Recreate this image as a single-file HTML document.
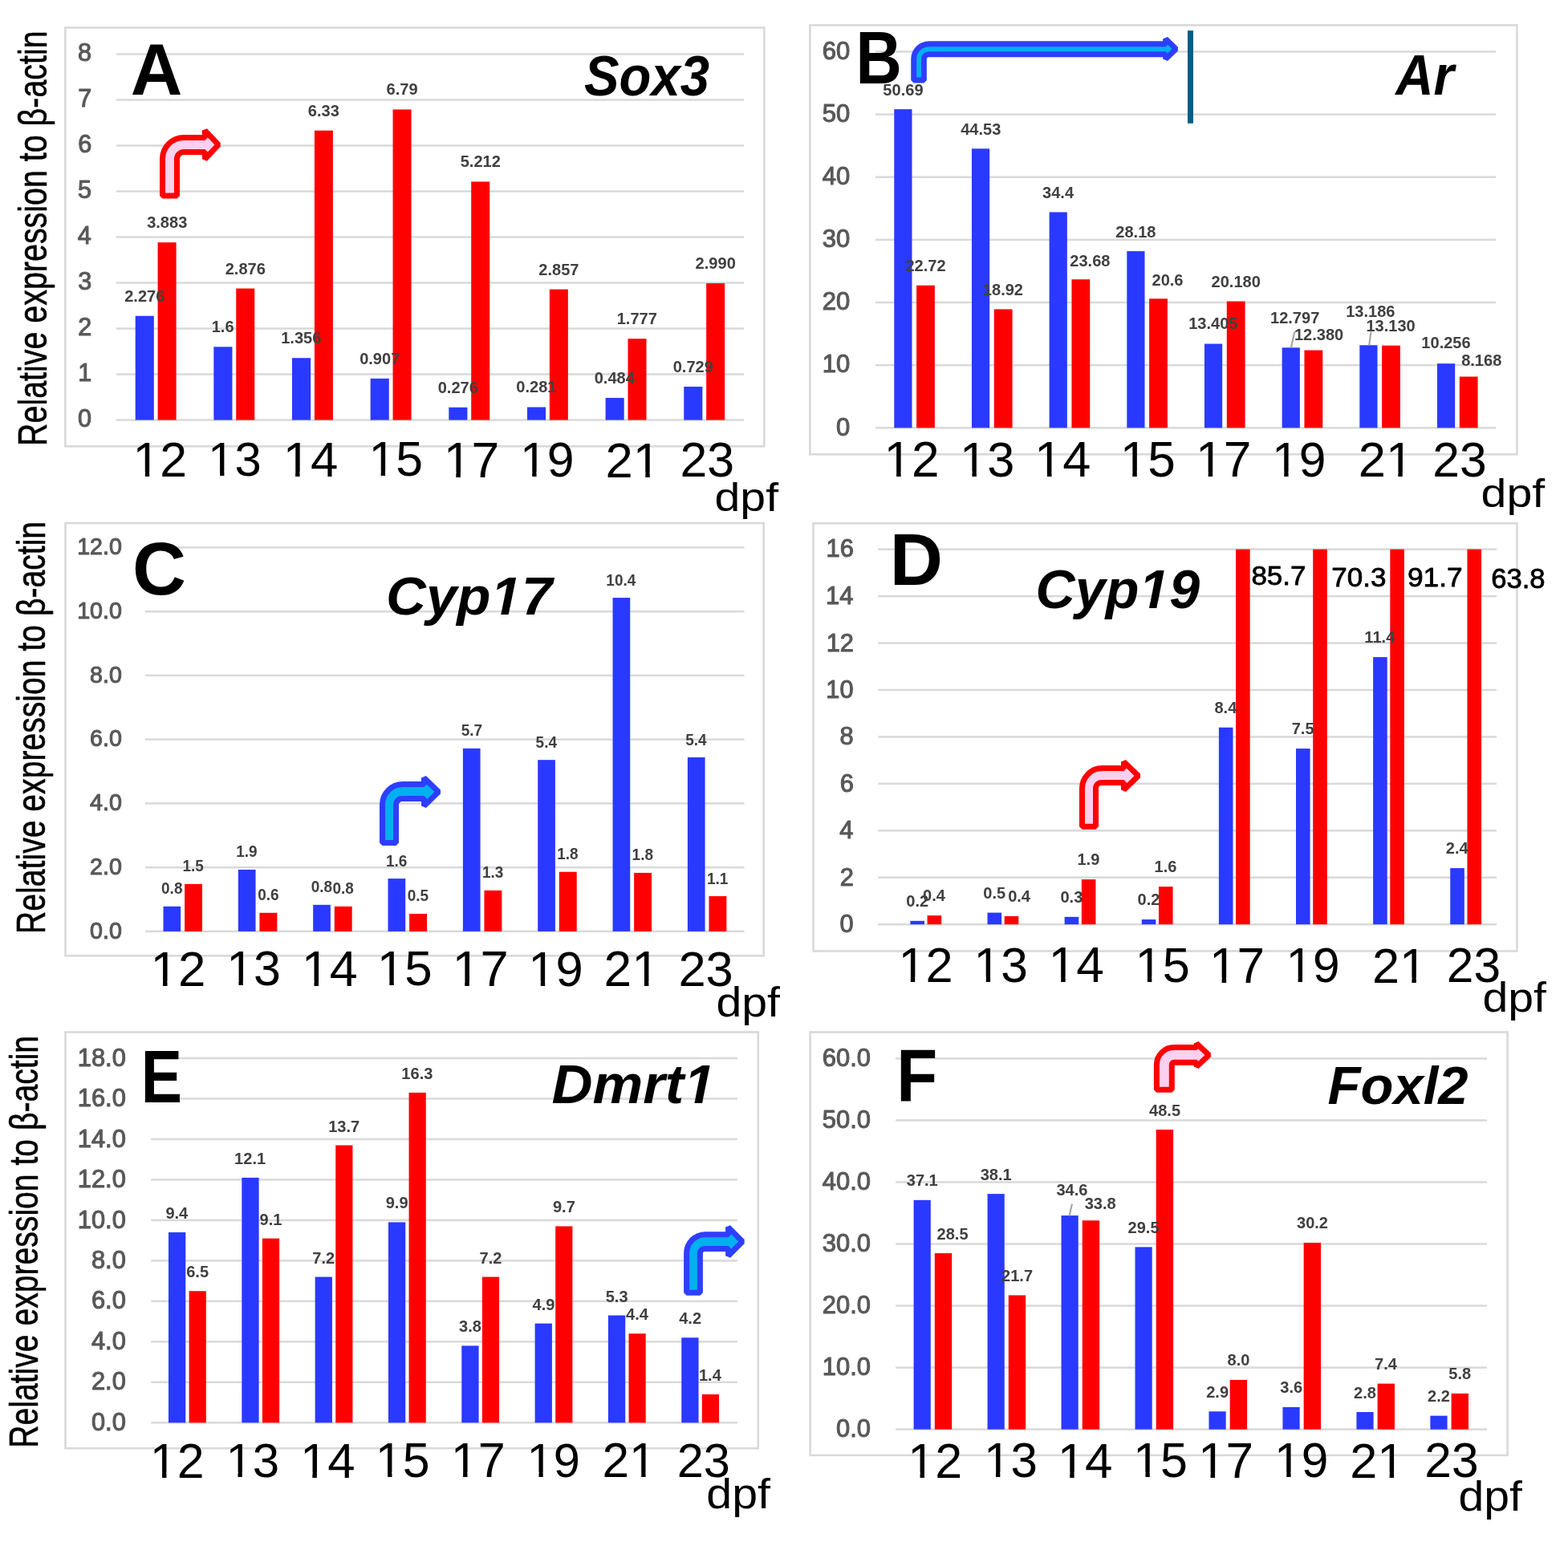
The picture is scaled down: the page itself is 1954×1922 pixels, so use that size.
<!DOCTYPE html>
<html><head><meta charset="utf-8"><title>Relative expression charts</title>
<style>
html,body{margin:0;padding:0;background:#fff;}
svg{display:block;}
text{font-family:"Liberation Sans",Arial,sans-serif;}
.r{font-weight:normal;}
.b{font-weight:bold;}
.bi{font-weight:bold;font-style:italic;}
.i{font-style:italic;}
.t{stroke:#595959;stroke-width:1.1px;stroke-linejoin:round;}
.k{stroke:#000;stroke-width:0.8px;stroke-linejoin:round;}
.y{stroke:#000;stroke-width:0.6px;stroke-linejoin:round;}
</style></head><body>
<svg width="1954" height="1922" viewBox="0 0 1954 1922">
<defs><mask id="m0" maskUnits="userSpaceOnUse" x="0" y="0" width="1954" height="1922"><rect width="1954" height="1922" fill="#fff"/><rect x="168.62" y="587.93" width="12.2" height="7.9" fill="#000"/><rect x="186.18" y="587.93" width="11.89" height="7.9" fill="#000"/></mask>
<mask id="m1" maskUnits="userSpaceOnUse" x="0" y="0" width="1954" height="1922"><rect width="1954" height="1922" fill="#fff"/><rect x="262.09" y="587.41" width="12.03" height="7.79" fill="#000"/><rect x="279.41" y="587.41" width="11.73" height="7.79" fill="#000"/></mask>
<mask id="m2" maskUnits="userSpaceOnUse" x="0" y="0" width="1954" height="1922"><rect width="1954" height="1922" fill="#fff"/><rect x="355.75" y="587.84" width="12.37" height="8.01" fill="#000"/><rect x="373.57" y="587.84" width="12.07" height="8.01" fill="#000"/></mask>
<mask id="m3" maskUnits="userSpaceOnUse" x="0" y="0" width="1954" height="1922"><rect width="1954" height="1922" fill="#fff"/><rect x="462.47" y="587.32" width="12.2" height="7.9" fill="#000"/><rect x="480.04" y="587.32" width="11.89" height="7.9" fill="#000"/></mask>
<mask id="m4" maskUnits="userSpaceOnUse" x="0" y="0" width="1954" height="1922"><rect width="1954" height="1922" fill="#fff"/><rect x="555.79" y="588.25" width="12.55" height="8.13" fill="#000"/><rect x="573.86" y="588.25" width="12.24" height="8.13" fill="#000"/></mask>
<mask id="m5" maskUnits="userSpaceOnUse" x="0" y="0" width="1954" height="1922"><rect width="1954" height="1922" fill="#fff"/><rect x="650.98" y="587.82" width="12.2" height="7.9" fill="#000"/><rect x="668.54" y="587.82" width="11.89" height="7.9" fill="#000"/></mask>
<mask id="m6" maskUnits="userSpaceOnUse" x="0" y="0" width="1954" height="1922"><rect width="1954" height="1922" fill="#fff"/><rect x="791.95" y="588.34" width="12.37" height="8.01" fill="#000"/><rect x="809.77" y="588.34" width="12.06" height="8.01" fill="#000"/></mask>
<mask id="m7" maskUnits="userSpaceOnUse" x="0" y="0" width="1954" height="1922"><rect width="1954" height="1922" fill="#fff"/><rect x="1104.66" y="588.18" width="12.49" height="8.08" fill="#000"/><rect x="1122.64" y="588.18" width="12.17" height="8.08" fill="#000"/></mask>
<mask id="m8" maskUnits="userSpaceOnUse" x="0" y="0" width="1954" height="1922"><rect width="1954" height="1922" fill="#fff"/><rect x="1199.14" y="587.66" width="12.31" height="7.97" fill="#000"/><rect x="1216.87" y="587.66" width="12" height="7.97" fill="#000"/></mask>
<mask id="m9" maskUnits="userSpaceOnUse" x="0" y="0" width="1954" height="1922"><rect width="1954" height="1922" fill="#fff"/><rect x="1292.27" y="588.09" width="12.67" height="8.2" fill="#000"/><rect x="1310.51" y="588.09" width="12.35" height="8.2" fill="#000"/></mask>
<mask id="m10" maskUnits="userSpaceOnUse" x="0" y="0" width="1954" height="1922"><rect width="1954" height="1922" fill="#fff"/><rect x="1398.81" y="587.56" width="12.49" height="8.08" fill="#000"/><rect x="1416.79" y="587.56" width="12.17" height="8.08" fill="#000"/></mask>
<mask id="m11" maskUnits="userSpaceOnUse" x="0" y="0" width="1954" height="1922"><rect width="1954" height="1922" fill="#fff"/><rect x="1493.16" y="588.06" width="12.52" height="8.11" fill="#000"/><rect x="1511.2" y="588.06" width="12.21" height="8.11" fill="#000"/></mask>
<mask id="m12" maskUnits="userSpaceOnUse" x="0" y="0" width="1954" height="1922"><rect width="1954" height="1922" fill="#fff"/><rect x="1588.06" y="587.63" width="12.17" height="7.88" fill="#000"/><rect x="1605.58" y="587.63" width="11.86" height="7.88" fill="#000"/></mask>
<mask id="m13" maskUnits="userSpaceOnUse" x="0" y="0" width="1954" height="1922"><rect width="1954" height="1922" fill="#fff"/><rect x="1729.98" y="588.15" width="12.34" height="7.99" fill="#000"/><rect x="1747.76" y="588.15" width="12.03" height="7.99" fill="#000"/></mask>
<mask id="m14" maskUnits="userSpaceOnUse" x="0" y="0" width="1954" height="1922"><rect width="1954" height="1922" fill="#fff"/><rect x="190.61" y="1222.81" width="12.43" height="8.05" fill="#000"/><rect x="208.51" y="1222.81" width="12.12" height="8.05" fill="#000"/></mask>
<mask id="m15" maskUnits="userSpaceOnUse" x="0" y="0" width="1954" height="1922"><rect width="1954" height="1922" fill="#fff"/><rect x="285.19" y="1222.29" width="12.25" height="7.93" fill="#000"/><rect x="302.84" y="1222.29" width="11.95" height="7.93" fill="#000"/></mask>
<mask id="m16" maskUnits="userSpaceOnUse" x="0" y="0" width="1954" height="1922"><rect width="1954" height="1922" fill="#fff"/><rect x="378.87" y="1222.72" width="12.61" height="8.16" fill="#000"/><rect x="397.03" y="1222.72" width="12.29" height="8.16" fill="#000"/></mask>
<mask id="m17" maskUnits="userSpaceOnUse" x="0" y="0" width="1954" height="1922"><rect width="1954" height="1922" fill="#fff"/><rect x="472.91" y="1222.19" width="12.43" height="8.05" fill="#000"/><rect x="490.81" y="1222.19" width="12.12" height="8.05" fill="#000"/></mask>
<mask id="m18" maskUnits="userSpaceOnUse" x="0" y="0" width="1954" height="1922"><rect width="1954" height="1922" fill="#fff"/><rect x="566.55" y="1222.98" width="12.7" height="8.22" fill="#000"/><rect x="584.84" y="1222.98" width="12.38" height="8.22" fill="#000"/></mask>
<mask id="m19" maskUnits="userSpaceOnUse" x="0" y="0" width="1954" height="1922"><rect width="1954" height="1922" fill="#fff"/><rect x="661.41" y="1222.54" width="12.34" height="7.99" fill="#000"/><rect x="679.17" y="1222.54" width="12.03" height="7.99" fill="#000"/></mask>
<mask id="m20" maskUnits="userSpaceOnUse" x="0" y="0" width="1954" height="1922"><rect width="1954" height="1922" fill="#fff"/><rect x="790.35" y="1223.07" width="12.51" height="8.1" fill="#000"/><rect x="808.37" y="1223.07" width="12.2" height="8.1" fill="#000"/></mask>
<mask id="m21" maskUnits="userSpaceOnUse" x="0" y="0" width="1954" height="1922"><rect width="1954" height="1922" fill="#fff"/><polygon points="610.13,768 623.87,768 625.98,757.41 612.2,757.41" fill="#000"/><polygon points="633.3,768 647.43,768 649.5,757.41 635.44,757.41" fill="#000"/></mask>
<mask id="m22" maskUnits="userSpaceOnUse" x="0" y="0" width="1954" height="1922"><rect width="1954" height="1922" fill="#fff"/><rect x="1122.51" y="1218.17" width="12.31" height="7.97" fill="#000"/><rect x="1140.25" y="1218.17" width="12.01" height="7.97" fill="#000"/></mask>
<mask id="m23" maskUnits="userSpaceOnUse" x="0" y="0" width="1954" height="1922"><rect width="1954" height="1922" fill="#fff"/><rect x="1216.64" y="1217.65" width="12.14" height="7.86" fill="#000"/><rect x="1234.12" y="1217.65" width="11.84" height="7.86" fill="#000"/></mask>
<mask id="m24" maskUnits="userSpaceOnUse" x="0" y="0" width="1954" height="1922"><rect width="1954" height="1922" fill="#fff"/><rect x="1309.69" y="1218.08" width="12.49" height="8.09" fill="#000"/><rect x="1327.68" y="1218.08" width="12.18" height="8.09" fill="#000"/></mask>
<mask id="m25" maskUnits="userSpaceOnUse" x="0" y="0" width="1954" height="1922"><rect width="1954" height="1922" fill="#fff"/><rect x="1417.62" y="1217.56" width="12.31" height="7.97" fill="#000"/><rect x="1435.35" y="1217.56" width="12.01" height="7.97" fill="#000"/></mask>
<mask id="m26" maskUnits="userSpaceOnUse" x="0" y="0" width="1954" height="1922"><rect width="1954" height="1922" fill="#fff"/><rect x="1510.14" y="1218.28" width="12.49" height="8.09" fill="#000"/><rect x="1528.13" y="1218.28" width="12.18" height="8.09" fill="#000"/></mask>
<mask id="m27" maskUnits="userSpaceOnUse" x="0" y="0" width="1954" height="1922"><rect width="1954" height="1922" fill="#fff"/><rect x="1605.48" y="1217.85" width="12.14" height="7.86" fill="#000"/><rect x="1622.96" y="1217.85" width="11.84" height="7.86" fill="#000"/></mask>
<mask id="m28" maskUnits="userSpaceOnUse" x="0" y="0" width="1954" height="1922"><rect width="1954" height="1922" fill="#fff"/><rect x="1747.11" y="1218.37" width="12.31" height="7.97" fill="#000"/><rect x="1764.85" y="1218.37" width="12.01" height="7.97" fill="#000"/></mask>
<mask id="m29" maskUnits="userSpaceOnUse" x="0" y="0" width="1954" height="1922"><rect width="1954" height="1922" fill="#fff"/><polygon points="1418.06,759.64 1431.64,759.64 1433.72,748.91 1420.11,748.91" fill="#000"/><polygon points="1440.95,759.64 1454.9,759.64 1456.95,748.91 1443.07,748.91" fill="#000"/></mask>
<mask id="m30" maskUnits="userSpaceOnUse" x="0" y="0" width="1954" height="1922"><rect width="1954" height="1922" fill="#fff"/><rect x="189.84" y="1835.41" width="12.23" height="7.92" fill="#000"/><rect x="207.45" y="1835.41" width="11.92" height="7.92" fill="#000"/></mask>
<mask id="m31" maskUnits="userSpaceOnUse" x="0" y="0" width="1954" height="1922"><rect width="1954" height="1922" fill="#fff"/><rect x="284.41" y="1834.9" width="12.05" height="7.8" fill="#000"/><rect x="301.78" y="1834.9" width="11.75" height="7.8" fill="#000"/></mask>
<mask id="m32" maskUnits="userSpaceOnUse" x="0" y="0" width="1954" height="1922"><rect width="1954" height="1922" fill="#fff"/><rect x="376.97" y="1835.32" width="12.4" height="8.03" fill="#000"/><rect x="394.84" y="1835.32" width="12.1" height="8.03" fill="#000"/></mask>
<mask id="m33" maskUnits="userSpaceOnUse" x="0" y="0" width="1954" height="1922"><rect width="1954" height="1922" fill="#fff"/><rect x="470.85" y="1834.8" width="12.23" height="7.92" fill="#000"/><rect x="488.46" y="1834.8" width="11.92" height="7.92" fill="#000"/></mask>
<mask id="m34" maskUnits="userSpaceOnUse" x="0" y="0" width="1954" height="1922"><rect width="1954" height="1922" fill="#fff"/><rect x="564.78" y="1835.28" width="12.29" height="7.95" fill="#000"/><rect x="582.48" y="1835.28" width="11.98" height="7.95" fill="#000"/></mask>
<mask id="m35" maskUnits="userSpaceOnUse" x="0" y="0" width="1954" height="1922"><rect width="1954" height="1922" fill="#fff"/><rect x="659.55" y="1834.86" width="11.94" height="7.73" fill="#000"/><rect x="676.75" y="1834.86" width="11.64" height="7.73" fill="#000"/></mask>
<mask id="m36" maskUnits="userSpaceOnUse" x="0" y="0" width="1954" height="1922"><rect width="1954" height="1922" fill="#fff"/><rect x="787.13" y="1835.37" width="12.11" height="7.84" fill="#000"/><rect x="804.57" y="1835.37" width="11.81" height="7.84" fill="#000"/></mask>
<mask id="m37" maskUnits="userSpaceOnUse" x="0" y="0" width="1954" height="1922"><rect width="1954" height="1922" fill="#fff"/><polygon points="850.9,1377.41 864.96,1377.41 867.11,1366.61 853.02,1366.61" fill="#000"/><polygon points="874.59,1377.41 889.04,1377.41 891.15,1366.61 876.78,1366.61" fill="#000"/></mask>
<mask id="m38" maskUnits="userSpaceOnUse" x="0" y="0" width="1954" height="1922"><rect width="1954" height="1922" fill="#fff"/><rect x="1134.31" y="1835.4" width="12.26" height="7.93" fill="#000"/><rect x="1151.96" y="1835.4" width="11.95" height="7.93" fill="#000"/></mask>
<mask id="m39" maskUnits="userSpaceOnUse" x="0" y="0" width="1954" height="1922"><rect width="1954" height="1922" fill="#fff"/><rect x="1228.94" y="1834.88" width="12.08" height="7.82" fill="#000"/><rect x="1246.34" y="1834.88" width="11.78" height="7.82" fill="#000"/></mask>
<mask id="m40" maskUnits="userSpaceOnUse" x="0" y="0" width="1954" height="1922"><rect width="1954" height="1922" fill="#fff"/><rect x="1320.79" y="1835.31" width="12.43" height="8.05" fill="#000"/><rect x="1338.7" y="1835.31" width="12.12" height="8.05" fill="#000"/></mask>
<mask id="m41" maskUnits="userSpaceOnUse" x="0" y="0" width="1954" height="1922"><rect width="1954" height="1922" fill="#fff"/><rect x="1415.17" y="1834.79" width="12.26" height="7.93" fill="#000"/><rect x="1432.82" y="1834.79" width="11.95" height="7.93" fill="#000"/></mask>
<mask id="m42" maskUnits="userSpaceOnUse" x="0" y="0" width="1954" height="1922"><rect width="1954" height="1922" fill="#fff"/><rect x="1496.09" y="1835.28" width="12.49" height="8.09" fill="#000"/><rect x="1514.08" y="1835.28" width="12.18" height="8.09" fill="#000"/></mask>
<mask id="m43" maskUnits="userSpaceOnUse" x="0" y="0" width="1954" height="1922"><rect width="1954" height="1922" fill="#fff"/><rect x="1591.13" y="1834.85" width="12.14" height="7.86" fill="#000"/><rect x="1608.61" y="1834.85" width="11.84" height="7.86" fill="#000"/></mask>
<mask id="m44" maskUnits="userSpaceOnUse" x="0" y="0" width="1954" height="1922"><rect width="1954" height="1922" fill="#fff"/><rect x="1719.31" y="1835.37" width="12.31" height="7.97" fill="#000"/><rect x="1737.05" y="1835.37" width="12.01" height="7.97" fill="#000"/></mask></defs>
<rect width="1954" height="1922" fill="#fff"/>
<rect x="81.4" y="34.5" width="870.9" height="521.8" fill="none" stroke="#d9d9d9" stroke-width="2.6"/>
<rect x="145" y="522.25" width="782" height="2.5" fill="#d9d9d9"/>
<rect x="145" y="465.25" width="782" height="2.5" fill="#d9d9d9"/>
<rect x="145" y="408.25" width="782" height="2.5" fill="#d9d9d9"/>
<rect x="145" y="351.25" width="782" height="2.5" fill="#d9d9d9"/>
<rect x="145" y="294.25" width="782" height="2.5" fill="#d9d9d9"/>
<rect x="145" y="237.25" width="782" height="2.5" fill="#d9d9d9"/>
<rect x="145" y="180.25" width="782" height="2.5" fill="#d9d9d9"/>
<rect x="145" y="123.25" width="782" height="2.5" fill="#d9d9d9"/>
<rect x="145" y="66.25" width="782" height="2.5" fill="#d9d9d9"/>
<rect x="168.7" y="393.77" width="23.1" height="129.73" fill="#2a39ff"/>
<rect x="196.6" y="302.17" width="23" height="221.33" fill="#ff0000"/>
<rect x="266.35" y="432.3" width="23.1" height="91.2" fill="#2a39ff"/>
<rect x="294.25" y="359.57" width="23" height="163.93" fill="#ff0000"/>
<rect x="364" y="446.21" width="23.1" height="77.29" fill="#2a39ff"/>
<rect x="391.9" y="162.69" width="23" height="360.81" fill="#ff0000"/>
<rect x="461.65" y="471.8" width="23.1" height="51.7" fill="#2a39ff"/>
<rect x="489.55" y="136.47" width="23" height="387.03" fill="#ff0000"/>
<rect x="559.3" y="507.77" width="23.1" height="15.73" fill="#2a39ff"/>
<rect x="587.2" y="226.42" width="23" height="297.08" fill="#ff0000"/>
<rect x="656.95" y="507.48" width="23.1" height="16.02" fill="#2a39ff"/>
<rect x="684.85" y="360.65" width="23" height="162.85" fill="#ff0000"/>
<rect x="754.6" y="495.91" width="23.1" height="27.59" fill="#2a39ff"/>
<rect x="782.5" y="422.21" width="23" height="101.29" fill="#ff0000"/>
<rect x="852.25" y="481.95" width="23.1" height="41.55" fill="#2a39ff"/>
<rect x="880.15" y="353.07" width="23" height="170.43" fill="#ff0000"/>
<text class="r t" font-size="30.6" fill="#595959" x="96.98" y="532.13">0</text>
<text class="r t" font-size="30.6" fill="#595959" x="97.29" y="475.13">1</text>
<text class="r t" font-size="30.6" fill="#595959" x="97.32" y="418.28">2</text>
<text class="r t" font-size="30.6" fill="#595959" x="97.13" y="361.13">3</text>
<text class="r t" font-size="30.6" fill="#595959" x="96.67" y="304.13">4</text>
<text class="r t" font-size="30.6" fill="#595959" x="97.07" y="246.97">5</text>
<text class="r t" font-size="30.6" fill="#595959" x="97.13" y="190.13">6</text>
<text class="r t" font-size="30.6" fill="#595959" x="97.32" y="133.13">7</text>
<text class="r t" font-size="30.6" fill="#595959" x="97.1" y="76.13">8</text>
<text class="b" font-size="20.9" fill="#404040" transform="translate(155.16 375.77) scale(0.9600 1)">2.276</text>
<text class="b" font-size="20.9" fill="#404040" transform="translate(183.13 284.17) scale(0.9600 1)">3.883</text>
<text class="b" font-size="20.9" fill="#404040" transform="translate(263.68 414.3) scale(0.9600 1)">1.6</text>
<text class="b" font-size="20.9" fill="#404040" transform="translate(280.66 341.57) scale(0.9600 1)">2.876</text>
<text class="b" font-size="20.9" fill="#404040" transform="translate(350.18 428.21) scale(0.9600 1)">1.356</text>
<text class="b" font-size="20.9" fill="#404040" transform="translate(383.87 144.69) scale(0.9600 1)">6.33</text>
<text class="b" font-size="20.9" fill="#404040" transform="translate(448.14 453.8) scale(0.9600 1)">0.907</text>
<text class="b" font-size="20.9" fill="#404040" transform="translate(481.53 118.47) scale(0.9600 1)">6.79</text>
<text class="b" font-size="20.9" fill="#404040" transform="translate(545.71 489.77) scale(0.9600 1)">0.276</text>
<text class="b" font-size="20.9" fill="#404040" transform="translate(573.69 208.42) scale(0.9600 1)">5.212</text>
<text class="b" font-size="20.9" fill="#404040" transform="translate(643.28 489.48) scale(0.9600 1)">0.281</text>
<text class="b" font-size="20.9" fill="#404040" transform="translate(671.34 342.65) scale(0.9600 1)">2.857</text>
<text class="b" font-size="20.9" fill="#404040" transform="translate(740.7 477.91) scale(0.9600 1)">0.484</text>
<text class="b" font-size="20.9" fill="#404040" transform="translate(768.71 404.21) scale(0.9600 1)">1.777</text>
<text class="b" font-size="20.9" fill="#404040" transform="translate(838.67 463.95) scale(0.9600 1)">0.729</text>
<text class="b" font-size="20.9" fill="#404040" transform="translate(866.61 335.07) scale(0.9600 1)">2.990</text>
<g mask="url(#m0)"><text class="r" font-size="60.74" fill="#000" x="165.58" y="594">12</text></g>
<g mask="url(#m1)"><text class="r" font-size="59.89" fill="#000" x="259.1" y="593.4">13</text></g>
<g mask="url(#m2)"><text class="r" font-size="61.63" fill="#000" x="352.67" y="594">14</text></g>
<g mask="url(#m3)"><text class="r" font-size="60.74" fill="#000" x="459.44" y="593.39">15</text></g>
<g mask="url(#m4)"><text class="r" font-size="62.5" fill="#000" x="552.66" y="594.5">17</text></g>
<g mask="url(#m5)"><text class="r" font-size="60.73" fill="#000" x="647.94" y="593.89">19</text></g>
<g mask="url(#m6)"><text class="r" font-size="61.6" fill="#000" x="754.61" y="594.5">21</text></g>
<text class="r" font-size="60.73" fill="#000" x="847.5" y="593.89">23</text>
<text class="r" font-size="50.38" fill="#000" transform="translate(890.5 636.52) scale(1.1360 1)">dpf</text>
<text class="b" font-size="90.84" fill="#000" transform="translate(162.76 117.7) scale(0.9843 1)">A</text>
<text class="bi" font-size="69.77" fill="#000" transform="translate(728.12 118.5) scale(0.9349 1)">Sox3</text>
<rect x="1009.4" y="31.4" width="881.1" height="534.9" fill="none" stroke="#d9d9d9" stroke-width="2.6"/>
<rect x="1091" y="532.05" width="773" height="2.5" fill="#d9d9d9"/>
<rect x="1091" y="453.9" width="773" height="2.5" fill="#d9d9d9"/>
<rect x="1091" y="375.75" width="773" height="2.5" fill="#d9d9d9"/>
<rect x="1091" y="297.6" width="773" height="2.5" fill="#d9d9d9"/>
<rect x="1091" y="219.45" width="773" height="2.5" fill="#d9d9d9"/>
<rect x="1091" y="141.3" width="773" height="2.5" fill="#d9d9d9"/>
<rect x="1091" y="63.15" width="773" height="2.5" fill="#d9d9d9"/>
<rect x="1114.3" y="136.14" width="22.2" height="397.16" fill="#2a39ff"/>
<rect x="1142.1" y="355.74" width="22.8" height="177.56" fill="#ff0000"/>
<rect x="1210.97" y="185.3" width="22.2" height="348" fill="#2a39ff"/>
<rect x="1238.77" y="385.44" width="22.8" height="147.86" fill="#ff0000"/>
<rect x="1307.64" y="264.46" width="22.2" height="268.84" fill="#2a39ff"/>
<rect x="1335.44" y="348.24" width="22.8" height="185.06" fill="#ff0000"/>
<rect x="1404.31" y="313.07" width="22.2" height="220.23" fill="#2a39ff"/>
<rect x="1432.11" y="372.31" width="22.8" height="160.99" fill="#ff0000"/>
<rect x="1500.98" y="428.54" width="22.2" height="104.76" fill="#2a39ff"/>
<rect x="1528.78" y="375.59" width="22.8" height="157.71" fill="#ff0000"/>
<rect x="1597.65" y="433.29" width="22.2" height="100.01" fill="#2a39ff"/>
<rect x="1625.45" y="436.55" width="22.8" height="96.75" fill="#ff0000"/>
<rect x="1694.32" y="430.25" width="22.2" height="103.05" fill="#2a39ff"/>
<rect x="1722.12" y="430.69" width="22.8" height="102.61" fill="#ff0000"/>
<rect x="1790.99" y="453.15" width="22.2" height="80.15" fill="#2a39ff"/>
<rect x="1818.79" y="469.47" width="22.8" height="63.83" fill="#ff0000"/>
<text class="r t" font-size="31" fill="#595959" x="1041.97" y="542.56">0</text>
<text class="r t" font-size="31" fill="#595959" x="1024.74" y="464.41">10</text>
<text class="r t" font-size="31" fill="#595959" x="1024.74" y="386.26">20</text>
<text class="r t" font-size="31" fill="#595959" x="1024.74" y="308.11">30</text>
<text class="r t" font-size="31" fill="#595959" x="1024.74" y="229.96">40</text>
<text class="r t" font-size="31" fill="#595959" x="1024.74" y="151.81">50</text>
<text class="r t" font-size="31" fill="#595959" x="1024.74" y="73.66">60</text>
<line x1="1613.3" y1="413.3" x2="1608.9" y2="433.5" stroke="#a6a6a6" stroke-width="2.2"/>
<line x1="1708.5" y1="413.3" x2="1706.2" y2="430.4" stroke="#a6a6a6" stroke-width="2.2"/>
<text class="b" font-size="20.9" fill="#404040" transform="translate(1100.36 118.64) scale(0.9600 1)">50.69</text>
<text class="b" font-size="20.9" fill="#404040" transform="translate(1128.45 338.24) scale(0.9600 1)">22.72</text>
<text class="b" font-size="20.9" fill="#404040" transform="translate(1197.18 167.8) scale(0.9600 1)">44.53</text>
<text class="b" font-size="20.9" fill="#404040" transform="translate(1224.84 367.94) scale(0.9600 1)">18.92</text>
<text class="b" font-size="20.9" fill="#404040" transform="translate(1299.04 246.96) scale(0.9600 1)">34.4</text>
<text class="b" font-size="20.9" fill="#404040" transform="translate(1333.26 332.27) scale(0.9600 1)">23.68</text>
<text class="b" font-size="20.9" fill="#404040" transform="translate(1390.27 295.57) scale(0.9600 1)">28.18</text>
<text class="b" font-size="20.9" fill="#404040" transform="translate(1435.49 355.59) scale(0.9600 1)">20.6</text>
<text class="b" font-size="20.9" fill="#404040" transform="translate(1481.17 409.97) scale(0.9600 1)">13.405</text>
<text class="b" font-size="20.9" fill="#404040" transform="translate(1509.56 358.09) scale(0.9600 1)">20.180</text>
<text class="b" font-size="20.9" fill="#404040" transform="translate(1582.98 402.99) scale(0.9600 1)">12.797</text>
<text class="b" font-size="20.9" fill="#404040" transform="translate(1612.95 423.67) scale(0.9600 1)">12.380</text>
<text class="b" font-size="20.9" fill="#404040" transform="translate(1677.2 395.27) scale(0.9600 1)">13.186</text>
<text class="b" font-size="20.9" fill="#404040" transform="translate(1702.45 412.67) scale(0.9600 1)">13.130</text>
<text class="b" font-size="20.9" fill="#404040" transform="translate(1771.35 434.29) scale(0.9600 1)">10.256</text>
<text class="b" font-size="20.9" fill="#404040" transform="translate(1821.14 456.49) scale(0.9600 1)">8.168</text>
<g mask="url(#m7)"><text class="r" font-size="62.18" fill="#000" x="1101.55" y="594.4">12</text></g>
<g mask="url(#m8)"><text class="r" font-size="61.3" fill="#000" x="1196.07" y="593.79">13</text></g>
<g mask="url(#m9)"><text class="r" font-size="63.08" fill="#000" x="1289.11" y="594.4">14</text></g>
<g mask="url(#m10)"><text class="r" font-size="62.18" fill="#000" x="1395.7" y="593.78">15</text></g>
<g mask="url(#m11)"><text class="r" font-size="62.35" fill="#000" x="1490.05" y="594.3">17</text></g>
<g mask="url(#m12)"><text class="r" font-size="60.59" fill="#000" x="1585.03" y="593.69">19</text></g>
<g mask="url(#m13)"><text class="r" font-size="61.46" fill="#000" x="1692.73" y="594.3">21</text></g>
<text class="r" font-size="60.59" fill="#000" x="1785.28" y="593.69">23</text>
<text class="r" font-size="50.27" fill="#000" transform="translate(1845.6 632.44) scale(1.1385 1)">dpf</text>
<text class="b" font-size="93.02" fill="#000" transform="translate(1066.58 104) scale(0.8530 1)">B</text>
<text class="bi" font-size="69.48" fill="#000" transform="translate(1739.31 117.8) scale(0.9424 1)">Ar</text>
<rect x="81.5" y="652" width="870.2" height="539.3" fill="none" stroke="#d9d9d9" stroke-width="2.6"/>
<rect x="181" y="1159.65" width="746.5" height="2.5" fill="#d9d9d9"/>
<rect x="181" y="1079.91" width="746.5" height="2.5" fill="#d9d9d9"/>
<rect x="181" y="1000.17" width="746.5" height="2.5" fill="#d9d9d9"/>
<rect x="181" y="920.43" width="746.5" height="2.5" fill="#d9d9d9"/>
<rect x="181" y="840.69" width="746.5" height="2.5" fill="#d9d9d9"/>
<rect x="181" y="760.95" width="746.5" height="2.5" fill="#d9d9d9"/>
<rect x="181" y="681.21" width="746.5" height="2.5" fill="#d9d9d9"/>
<rect x="203.5" y="1129.8" width="21.7" height="31.1" fill="#2a39ff"/>
<rect x="230.1" y="1101.89" width="21.9" height="59.01" fill="#ff0000"/>
<rect x="296.84" y="1083.95" width="21.7" height="76.95" fill="#2a39ff"/>
<rect x="323.44" y="1137.78" width="21.9" height="23.12" fill="#ff0000"/>
<rect x="390.18" y="1127.81" width="21.7" height="33.09" fill="#2a39ff"/>
<rect x="416.78" y="1129.8" width="21.9" height="31.1" fill="#ff0000"/>
<rect x="483.52" y="1095.11" width="21.7" height="65.79" fill="#2a39ff"/>
<rect x="510.12" y="1138.97" width="21.9" height="21.93" fill="#ff0000"/>
<rect x="576.86" y="932.84" width="21.7" height="228.06" fill="#2a39ff"/>
<rect x="603.46" y="1109.87" width="21.9" height="51.03" fill="#ff0000"/>
<rect x="670.2" y="947.2" width="21.7" height="213.7" fill="#2a39ff"/>
<rect x="696.8" y="1086.74" width="21.9" height="74.16" fill="#ff0000"/>
<rect x="763.54" y="745.06" width="21.7" height="415.84" fill="#2a39ff"/>
<rect x="790.14" y="1087.94" width="21.9" height="72.96" fill="#ff0000"/>
<rect x="856.88" y="944.01" width="21.7" height="216.89" fill="#2a39ff"/>
<rect x="883.48" y="1117.04" width="21.9" height="43.86" fill="#ff0000"/>
<text class="r t" font-size="28.6" fill="#595959" x="112.06" y="1169.54">0.0</text>
<text class="r t" font-size="28.6" fill="#595959" x="112.06" y="1089.8">2.0</text>
<text class="r t" font-size="28.6" fill="#595959" x="112.06" y="1010.06">4.0</text>
<text class="r t" font-size="28.6" fill="#595959" x="112.06" y="930.32">6.0</text>
<text class="r t" font-size="28.6" fill="#595959" x="112.06" y="850.58">8.0</text>
<text class="r t" font-size="28.6" fill="#595959" x="96.16" y="770.84">10.0</text>
<text class="r t" font-size="28.6" fill="#595959" x="96.16" y="691.1">12.0</text>
<text class="b" font-size="20" fill="#404040" transform="translate(201.06 1114.3) scale(0.9500 1)">0.8</text>
<text class="b" font-size="20" fill="#404040" transform="translate(227.51 1086.39) scale(0.9500 1)">1.5</text>
<text class="b" font-size="20" fill="#404040" transform="translate(294.24 1068.45) scale(0.9500 1)">1.9</text>
<text class="b" font-size="20" fill="#404040" transform="translate(321.15 1122.28) scale(0.9500 1)">0.6</text>
<text class="b" font-size="20" fill="#404040" transform="translate(387.74 1112.31) scale(0.9500 1)">0.8</text>
<text class="b" font-size="20" fill="#404040" transform="translate(414.44 1114.3) scale(0.9500 1)">0.8</text>
<text class="b" font-size="20" fill="#404040" transform="translate(480.91 1079.61) scale(0.9500 1)">1.6</text>
<text class="b" font-size="20" fill="#404040" transform="translate(507.75 1123.47) scale(0.9500 1)">0.5</text>
<text class="b" font-size="20" fill="#404040" transform="translate(574.63 917.34) scale(0.9500 1)">5.7</text>
<text class="b" font-size="20" fill="#404040" transform="translate(600.95 1094.37) scale(0.9500 1)">1.3</text>
<text class="b" font-size="20" fill="#404040" transform="translate(667.6 931.7) scale(0.9500 1)">5.4</text>
<text class="b" font-size="20" fill="#404040" transform="translate(694.24 1071.24) scale(0.9500 1)">1.8</text>
<text class="b" font-size="20" fill="#404040" transform="translate(755.35 729.56) scale(0.9500 1)">10.4</text>
<text class="b" font-size="20" fill="#404040" transform="translate(787.58 1072.44) scale(0.9500 1)">1.8</text>
<text class="b" font-size="20" fill="#404040" transform="translate(854.28 928.51) scale(0.9500 1)">5.4</text>
<text class="b" font-size="20" fill="#404040" transform="translate(880.89 1101.54) scale(0.9500 1)">1.1</text>
<g mask="url(#m14)"><text class="r" font-size="61.89" fill="#000" x="187.52" y="1229">12</text></g>
<g mask="url(#m15)"><text class="r" font-size="61.02" fill="#000" x="282.14" y="1228.39">13</text></g>
<g mask="url(#m16)"><text class="r" font-size="62.79" fill="#000" x="375.73" y="1229">14</text></g>
<g mask="url(#m17)"><text class="r" font-size="61.89" fill="#000" x="469.82" y="1228.38">15</text></g>
<g mask="url(#m18)"><text class="r" font-size="63.23" fill="#000" x="563.39" y="1229.3">17</text></g>
<g mask="url(#m19)"><text class="r" font-size="61.44" fill="#000" x="658.33" y="1228.69">19</text></g>
<g mask="url(#m20)"><text class="r" font-size="62.32" fill="#000" x="752.57" y="1229.3">21</text></g>
<text class="r" font-size="61.44" fill="#000" x="845.45" y="1228.69">23</text>
<text class="r" font-size="51.34" fill="#000" transform="translate(892.4 1267.22) scale(1.1147 1)">dpf</text>
<text class="b" font-size="91.95" fill="#000" transform="translate(164.9 740.98) scale(1.0077 1)">C</text>
<g mask="url(#m21)"><text class="bi" font-size="67.44" fill="#000" transform="translate(481.02 765.97) scale(1.0242 1)">Cyp17</text></g>
<rect x="1013.5" y="652.3" width="877" height="533.2" fill="none" stroke="#d9d9d9" stroke-width="2.6"/>
<rect x="1094.2" y="1150.95" width="770.8" height="2.5" fill="#d9d9d9"/>
<rect x="1094.2" y="1092.51" width="770.8" height="2.5" fill="#d9d9d9"/>
<rect x="1094.2" y="1034.07" width="770.8" height="2.5" fill="#d9d9d9"/>
<rect x="1094.2" y="975.63" width="770.8" height="2.5" fill="#d9d9d9"/>
<rect x="1094.2" y="917.19" width="770.8" height="2.5" fill="#d9d9d9"/>
<rect x="1094.2" y="858.75" width="770.8" height="2.5" fill="#d9d9d9"/>
<rect x="1094.2" y="800.31" width="770.8" height="2.5" fill="#d9d9d9"/>
<rect x="1094.2" y="741.87" width="770.8" height="2.5" fill="#d9d9d9"/>
<rect x="1094.2" y="683.43" width="770.8" height="2.5" fill="#d9d9d9"/>
<rect x="1134.4" y="1147.82" width="17.6" height="4.38" fill="#2a39ff"/>
<rect x="1155.6" y="1141.1" width="17.6" height="11.1" fill="#ff0000"/>
<rect x="1230.52" y="1137.59" width="17.6" height="14.61" fill="#2a39ff"/>
<rect x="1251.72" y="1141.97" width="17.6" height="10.23" fill="#ff0000"/>
<rect x="1326.64" y="1142.85" width="17.6" height="9.35" fill="#2a39ff"/>
<rect x="1347.84" y="1096.1" width="17.6" height="56.1" fill="#ff0000"/>
<rect x="1422.76" y="1146.06" width="17.6" height="6.14" fill="#2a39ff"/>
<rect x="1443.96" y="1105.16" width="17.6" height="47.04" fill="#ff0000"/>
<rect x="1518.88" y="906.75" width="17.6" height="245.45" fill="#2a39ff"/>
<rect x="1540.08" y="684.68" width="17.6" height="467.52" fill="#ff0000"/>
<rect x="1615" y="933.05" width="17.6" height="219.15" fill="#2a39ff"/>
<rect x="1636.2" y="684.68" width="17.6" height="467.52" fill="#ff0000"/>
<rect x="1711.12" y="819.09" width="17.6" height="333.11" fill="#2a39ff"/>
<rect x="1732.32" y="684.68" width="17.6" height="467.52" fill="#ff0000"/>
<rect x="1807.24" y="1082.07" width="17.6" height="70.13" fill="#2a39ff"/>
<rect x="1828.44" y="684.68" width="17.6" height="467.52" fill="#ff0000"/>
<text class="r t" font-size="30.8" fill="#595959" x="1046.48" y="1162">0</text>
<text class="r t" font-size="30.8" fill="#595959" x="1046.82" y="1103.71">2</text>
<text class="r t" font-size="30.8" fill="#595959" x="1046.17" y="1045.12">4</text>
<text class="r t" font-size="30.8" fill="#595959" x="1046.63" y="986.68">6</text>
<text class="r t" font-size="30.8" fill="#595959" x="1046.6" y="928.24">8</text>
<text class="r t" font-size="30.8" fill="#595959" x="1029.35" y="869.8">10</text>
<text class="r t" font-size="30.8" fill="#595959" x="1029.69" y="811.51">12</text>
<text class="r t" font-size="30.8" fill="#595959" x="1029.04" y="752.92">14</text>
<text class="r t" font-size="30.8" fill="#595959" x="1029.51" y="694.48">16</text>
<text class="b" font-size="20.9" fill="#404040" transform="translate(1129.26 1129.82) scale(0.9600 1)">0.2</text>
<text class="b" font-size="20.9" fill="#404040" transform="translate(1150.1 1123.1) scale(0.9600 1)">0.4</text>
<text class="b" font-size="20.9" fill="#404040" transform="translate(1225.26 1119.59) scale(0.9600 1)">0.5</text>
<text class="b" font-size="20.9" fill="#404040" transform="translate(1256.15 1124.49) scale(0.9600 1)">0.4</text>
<text class="b" font-size="20.9" fill="#404040" transform="translate(1321.46 1124.85) scale(0.9600 1)">0.3</text>
<text class="b" font-size="20.9" fill="#404040" transform="translate(1342.43 1078.1) scale(0.9600 1)">1.9</text>
<text class="b" font-size="20.9" fill="#404040" transform="translate(1417.62 1128.06) scale(0.9600 1)">0.2</text>
<text class="b" font-size="20.9" fill="#404040" transform="translate(1438.54 1087.16) scale(0.9600 1)">1.6</text>
<text class="b" font-size="20.9" fill="#404040" transform="translate(1513.46 888.75) scale(0.9600 1)">8.4</text>
<text class="b" font-size="20.9" fill="#404040" transform="translate(1609.71 915.05) scale(0.9600 1)">7.5</text>
<text class="b" font-size="20.9" fill="#404040" transform="translate(1700.37 801.09) scale(0.9600 1)">11.4</text>
<text class="b" font-size="20.9" fill="#404040" transform="translate(1801.79 1064.07) scale(0.9600 1)">2.4</text>
<g mask="url(#m22)"><text class="r" font-size="61.32" fill="#000" x="1119.45" y="1224.3">12</text></g>
<g mask="url(#m23)"><text class="r" font-size="60.45" fill="#000" x="1213.62" y="1223.7">13</text></g>
<g mask="url(#m24)"><text class="r" font-size="62.21" fill="#000" x="1306.58" y="1224.3">14</text></g>
<g mask="url(#m25)"><text class="r" font-size="61.32" fill="#000" x="1414.55" y="1223.69">15</text></g>
<g mask="url(#m26)"><text class="r" font-size="62.21" fill="#000" x="1507.03" y="1224.5">17</text></g>
<g mask="url(#m27)"><text class="r" font-size="60.45" fill="#000" x="1602.46" y="1223.9">19</text></g>
<g mask="url(#m28)"><text class="r" font-size="61.32" fill="#000" x="1709.95" y="1224.5">21</text></g>
<text class="r" font-size="60.45" fill="#000" x="1802.86" y="1223.9">23</text>
<text class="r" font-size="51.34" fill="#000" transform="translate(1847.4 1261.22) scale(1.1147 1)">dpf</text>
<text class="b" font-size="91.72" fill="#000" x="1108.86" y="728.8">D</text>
<g mask="url(#m29)"><text class="bi" font-size="68.32" fill="#000" transform="translate(1290.56 757.59) scale(0.9984 1)">Cyp19</text></g>
<rect x="81.5" y="1286.5" width="863.3" height="518.7" fill="none" stroke="#d9d9d9" stroke-width="2.6"/>
<rect x="188.2" y="1772.05" width="730.9" height="2.5" fill="#d9d9d9"/>
<rect x="188.2" y="1721.57" width="730.9" height="2.5" fill="#d9d9d9"/>
<rect x="188.2" y="1671.09" width="730.9" height="2.5" fill="#d9d9d9"/>
<rect x="188.2" y="1620.61" width="730.9" height="2.5" fill="#d9d9d9"/>
<rect x="188.2" y="1570.13" width="730.9" height="2.5" fill="#d9d9d9"/>
<rect x="188.2" y="1519.65" width="730.9" height="2.5" fill="#d9d9d9"/>
<rect x="188.2" y="1469.17" width="730.9" height="2.5" fill="#d9d9d9"/>
<rect x="188.2" y="1418.69" width="730.9" height="2.5" fill="#d9d9d9"/>
<rect x="188.2" y="1368.21" width="730.9" height="2.5" fill="#d9d9d9"/>
<rect x="188.2" y="1317.73" width="730.9" height="2.5" fill="#d9d9d9"/>
<rect x="210" y="1536.04" width="21.3" height="237.26" fill="#2a39ff"/>
<rect x="235.6" y="1609.24" width="21.2" height="164.06" fill="#ff0000"/>
<rect x="301.32" y="1467.9" width="21.3" height="305.4" fill="#2a39ff"/>
<rect x="326.92" y="1543.62" width="21.2" height="229.68" fill="#ff0000"/>
<rect x="392.64" y="1591.57" width="21.3" height="181.73" fill="#2a39ff"/>
<rect x="418.24" y="1427.51" width="21.2" height="345.79" fill="#ff0000"/>
<rect x="483.96" y="1523.42" width="21.3" height="249.88" fill="#2a39ff"/>
<rect x="509.56" y="1361.89" width="21.2" height="411.41" fill="#ff0000"/>
<rect x="575.28" y="1677.39" width="21.3" height="95.91" fill="#2a39ff"/>
<rect x="600.88" y="1591.57" width="21.2" height="181.73" fill="#ff0000"/>
<rect x="666.6" y="1649.62" width="21.3" height="123.68" fill="#2a39ff"/>
<rect x="692.2" y="1528.47" width="21.2" height="244.83" fill="#ff0000"/>
<rect x="757.92" y="1639.53" width="21.3" height="133.77" fill="#2a39ff"/>
<rect x="783.52" y="1662.24" width="21.2" height="111.06" fill="#ff0000"/>
<rect x="849.24" y="1667.29" width="21.3" height="106.01" fill="#2a39ff"/>
<rect x="874.84" y="1737.96" width="21.2" height="35.34" fill="#ff0000"/>
<text class="r t" font-size="30.8" fill="#595959" x="113.99" y="1782.9">0.0</text>
<text class="r t" font-size="30.8" fill="#595959" x="113.99" y="1732.42">2.0</text>
<text class="r t" font-size="30.8" fill="#595959" x="113.99" y="1681.94">4.0</text>
<text class="r t" font-size="30.8" fill="#595959" x="113.99" y="1631.46">6.0</text>
<text class="r t" font-size="30.8" fill="#595959" x="113.99" y="1580.98">8.0</text>
<text class="r t" font-size="30.8" fill="#595959" x="96.86" y="1530.5">10.0</text>
<text class="r t" font-size="30.8" fill="#595959" x="96.86" y="1480.02">12.0</text>
<text class="r t" font-size="30.8" fill="#595959" x="96.86" y="1429.54">14.0</text>
<text class="r t" font-size="30.8" fill="#595959" x="96.86" y="1379.06">16.0</text>
<text class="r t" font-size="30.8" fill="#595959" x="96.86" y="1328.58">18.0</text>
<text class="b" font-size="20.9" fill="#404040" transform="translate(206.4 1519.04) scale(0.9600 1)">9.4</text>
<text class="b" font-size="20.9" fill="#404040" transform="translate(232.17 1592.24) scale(0.9600 1)">6.5</text>
<text class="b" font-size="20.9" fill="#404040" transform="translate(292.1 1450.9) scale(0.9600 1)">12.1</text>
<text class="b" font-size="20.9" fill="#404040" transform="translate(323.51 1526.62) scale(0.9600 1)">9.1</text>
<text class="b" font-size="20.9" fill="#404040" transform="translate(389.32 1574.57) scale(0.9600 1)">7.2</text>
<text class="b" font-size="20.9" fill="#404040" transform="translate(409.13 1410.51) scale(0.9600 1)">13.7</text>
<text class="b" font-size="20.9" fill="#404040" transform="translate(480.69 1506.42) scale(0.9600 1)">9.9</text>
<text class="b" font-size="20.9" fill="#404040" transform="translate(500.37 1344.89) scale(0.9600 1)">16.3</text>
<text class="b" font-size="20.9" fill="#404040" transform="translate(572.07 1660.39) scale(0.9600 1)">3.8</text>
<text class="b" font-size="20.9" fill="#404040" transform="translate(597.51 1574.57) scale(0.9600 1)">7.2</text>
<text class="b" font-size="20.9" fill="#404040" transform="translate(663.53 1632.62) scale(0.9600 1)">4.9</text>
<text class="b" font-size="20.9" fill="#404040" transform="translate(688.95 1511.47) scale(0.9600 1)">9.7</text>
<text class="b" font-size="20.9" fill="#404040" transform="translate(754.68 1622.53) scale(0.9600 1)">5.3</text>
<text class="b" font-size="20.9" fill="#404040" transform="translate(780.08 1645.24) scale(0.9600 1)">4.4</text>
<text class="b" font-size="20.9" fill="#404040" transform="translate(846.2 1650.29) scale(0.9600 1)">4.2</text>
<text class="b" font-size="20.9" fill="#404040" transform="translate(870.91 1720.96) scale(0.9600 1)">1.4</text>
<g mask="url(#m30)"><text class="r" font-size="60.89" fill="#000" x="186.8" y="1841.5">12</text></g>
<g mask="url(#m31)"><text class="r" font-size="60.03" fill="#000" x="281.41" y="1840.9">13</text></g>
<g mask="url(#m32)"><text class="r" font-size="61.77" fill="#000" x="373.88" y="1841.5">14</text></g>
<g mask="url(#m33)"><text class="r" font-size="60.89" fill="#000" x="467.8" y="1840.89">15</text></g>
<g mask="url(#m34)"><text class="r" font-size="61.19" fill="#000" x="561.72" y="1841.4">17</text></g>
<g mask="url(#m35)"><text class="r" font-size="59.46" fill="#000" x="656.58" y="1840.81">19</text></g>
<g mask="url(#m36)"><text class="r" font-size="60.32" fill="#000" x="750.57" y="1841.4">21</text></g>
<text class="r" font-size="59.46" fill="#000" x="843.66" y="1840.81">23</text>
<text class="r" font-size="51.66" fill="#000" transform="translate(880.29 1880.15) scale(1.1092 1)">dpf</text>
<text class="b" font-size="93.17" fill="#000" transform="translate(175.85 1374) scale(0.8246 1)">E</text>
<g mask="url(#m37)"><text class="bi" font-size="68.82" fill="#000" transform="translate(687.53 1375.35) scale(1.0261 1)">Dmrt1</text></g>
<rect x="1009.6" y="1286.5" width="869" height="527.4" fill="none" stroke="#d9d9d9" stroke-width="2.6"/>
<rect x="1116.1" y="1780.35" width="736.8" height="2.5" fill="#d9d9d9"/>
<rect x="1116.1" y="1703.32" width="736.8" height="2.5" fill="#d9d9d9"/>
<rect x="1116.1" y="1626.29" width="736.8" height="2.5" fill="#d9d9d9"/>
<rect x="1116.1" y="1549.26" width="736.8" height="2.5" fill="#d9d9d9"/>
<rect x="1116.1" y="1472.23" width="736.8" height="2.5" fill="#d9d9d9"/>
<rect x="1116.1" y="1395.2" width="736.8" height="2.5" fill="#d9d9d9"/>
<rect x="1116.1" y="1318.17" width="736.8" height="2.5" fill="#d9d9d9"/>
<rect x="1138.6" y="1495.82" width="21.2" height="285.78" fill="#2a39ff"/>
<rect x="1164.8" y="1562.06" width="21.4" height="219.54" fill="#ff0000"/>
<rect x="1230.57" y="1488.12" width="21.2" height="293.48" fill="#2a39ff"/>
<rect x="1256.77" y="1614.44" width="21.4" height="167.16" fill="#ff0000"/>
<rect x="1322.54" y="1515.08" width="21.2" height="266.52" fill="#2a39ff"/>
<rect x="1348.74" y="1521.24" width="21.4" height="260.36" fill="#ff0000"/>
<rect x="1414.51" y="1554.36" width="21.2" height="227.24" fill="#2a39ff"/>
<rect x="1440.71" y="1408" width="21.4" height="373.6" fill="#ff0000"/>
<rect x="1506.48" y="1759.26" width="21.2" height="22.34" fill="#2a39ff"/>
<rect x="1532.68" y="1719.98" width="21.4" height="61.62" fill="#ff0000"/>
<rect x="1598.45" y="1753.87" width="21.2" height="27.73" fill="#2a39ff"/>
<rect x="1624.65" y="1548.97" width="21.4" height="232.63" fill="#ff0000"/>
<rect x="1690.42" y="1760.03" width="21.2" height="21.57" fill="#2a39ff"/>
<rect x="1716.62" y="1724.6" width="21.4" height="57" fill="#ff0000"/>
<rect x="1782.39" y="1764.65" width="21.2" height="16.95" fill="#2a39ff"/>
<rect x="1808.59" y="1736.92" width="21.4" height="44.68" fill="#ff0000"/>
<text class="r t" font-size="30.9" fill="#595959" x="1042.05" y="1791.23">0.0</text>
<text class="r t" font-size="30.9" fill="#595959" x="1024.87" y="1714.2">10.0</text>
<text class="r t" font-size="30.9" fill="#595959" x="1024.87" y="1637.17">20.0</text>
<text class="r t" font-size="30.9" fill="#595959" x="1024.87" y="1560.14">30.0</text>
<text class="r t" font-size="30.9" fill="#595959" x="1024.87" y="1483.11">40.0</text>
<text class="r t" font-size="30.9" fill="#595959" x="1024.87" y="1406.08">50.0</text>
<text class="r t" font-size="30.9" fill="#595959" x="1024.87" y="1329.05">60.0</text>
<line x1="1336" y1="1500.5" x2="1332.6" y2="1515.6" stroke="#a6a6a6" stroke-width="2.2"/>
<text class="b" font-size="20.9" fill="#404040" transform="translate(1129.73 1478.32) scale(0.9600 1)">37.1</text>
<text class="b" font-size="20.9" fill="#404040" transform="translate(1167.56 1544.59) scale(0.9600 1)">28.5</text>
<text class="b" font-size="20.9" fill="#404040" transform="translate(1221.7 1470.62) scale(0.9600 1)">38.1</text>
<text class="b" font-size="20.9" fill="#404040" transform="translate(1248.04 1596.94) scale(0.9600 1)">21.7</text>
<text class="b" font-size="20.9" fill="#404040" transform="translate(1316.46 1489.77) scale(0.9600 1)">34.6</text>
<text class="b" font-size="20.9" fill="#404040" transform="translate(1351.71 1507.37) scale(0.9600 1)">33.8</text>
<text class="b" font-size="20.9" fill="#404040" transform="translate(1405.52 1536.86) scale(0.9600 1)">29.5</text>
<text class="b" font-size="20.9" fill="#404040" transform="translate(1432.02 1390.5) scale(0.9600 1)">48.5</text>
<text class="b" font-size="20.9" fill="#404040" transform="translate(1503.16 1741.76) scale(0.9600 1)">2.9</text>
<text class="b" font-size="20.9" fill="#404040" transform="translate(1529.53 1702.48) scale(0.9600 1)">8.0</text>
<text class="b" font-size="20.9" fill="#404040" transform="translate(1595.24 1736.37) scale(0.9600 1)">3.6</text>
<text class="b" font-size="20.9" fill="#404040" transform="translate(1616 1531.47) scale(0.9600 1)">30.2</text>
<text class="b" font-size="20.9" fill="#404040" transform="translate(1687.04 1742.53) scale(0.9600 1)">2.8</text>
<text class="b" font-size="20.9" fill="#404040" transform="translate(1712.99 1707.1) scale(0.9600 1)">7.4</text>
<text class="b" font-size="20.9" fill="#404040" transform="translate(1779.1 1747.15) scale(0.9600 1)">2.2</text>
<text class="b" font-size="20.9" fill="#404040" transform="translate(1805.35 1719.42) scale(0.9600 1)">5.8</text>
<g mask="url(#m38)"><text class="r" font-size="61.03" fill="#000" x="1131.26" y="1841.5">12</text></g>
<g mask="url(#m39)"><text class="r" font-size="60.17" fill="#000" x="1225.93" y="1840.9">13</text></g>
<g mask="url(#m40)"><text class="r" font-size="61.92" fill="#000" x="1317.7" y="1841.5">14</text></g>
<g mask="url(#m41)"><text class="r" font-size="61.03" fill="#000" x="1412.12" y="1840.89">15</text></g>
<g mask="url(#m42)"><text class="r" font-size="62.21" fill="#000" x="1492.98" y="1841.5">17</text></g>
<g mask="url(#m43)"><text class="r" font-size="60.45" fill="#000" x="1588.11" y="1840.9">19</text></g>
<g mask="url(#m44)"><text class="r" font-size="61.32" fill="#000" x="1682.15" y="1841.5">21</text></g>
<text class="r" font-size="60.45" fill="#000" x="1775.31" y="1840.9">23</text>
<text class="r" font-size="51.66" fill="#000" transform="translate(1817.5 1882.65) scale(1.1063 1)">dpf</text>
<text class="b" font-size="92.88" fill="#000" transform="translate(1117.31 1371.9) scale(0.8983 1)">F</text>
<text class="bi" font-size="66.26" fill="#000" transform="translate(1654.59 1376.04) scale(1.0116 1)">Foxl2</text>
<text class="r k" font-size="33.76" fill="#000" transform="translate(1559.39 728.96) scale(1.0375 1)">85.7</text>
<text class="r k" font-size="33.62" fill="#000" transform="translate(1659.21 730.76) scale(1.0430 1)">70.3</text>
<text class="r k" font-size="33.62" fill="#000" transform="translate(1753.94 730.76) scale(1.0506 1)">91.7</text>
<text class="r k" font-size="34.32" fill="#000" transform="translate(1858.13 733.16) scale(1.0100 1)">63.8</text>
<text class="r y" font-size="50.73" fill="#000" transform="translate(58 555.93) rotate(-90) scale(0.7769 1)">Relative expression to β-actin</text>
<text class="r y" font-size="50.15" fill="#000" transform="translate(55.7 1163.91) rotate(-90) scale(0.7805 1)">Relative expression to β-actin</text>
<text class="r y" font-size="50" fill="#000" transform="translate(46.7 1804.71) rotate(-90) scale(0.7826 1)">Relative expression to β-actin</text>
<path d="M202.5 244 L202.5 198 A26.5 26.5 0 0 1 229 171.5 L255.4 171.5 L255.4 162.6 L272.2 180.45 L255.4 198.3 L255.4 189.5 L229 189.5 A8.5 8.5 0 0 0 220.5 198 L220.5 244 Z" fill="#fdd0f0" stroke="#ff0000" stroke-width="7" stroke-linejoin="bevel"/>
<path d="M476.5 1050.4 L476.5 1003.1 A25.5 25.5 0 0 1 502 977.6 L528.5 977.6 L528.5 969.6 L546.5 987.05 L528.5 1004.5 L528.5 995.4 L501.2 995.4 A7.7 7.7 0 0 0 493.5 1003.1 L493.5 1050.4 Z" fill="#00b0f0" stroke="#2e3efe" stroke-width="7" stroke-linejoin="bevel"/>
<path d="M1348.5 1030.3 L1348.5 982.6 A25 25 0 0 1 1373.5 957.6 L1400.5 957.6 L1400.5 949.6 L1418.6 967.05 L1400.5 984.5 L1400.5 975.4 L1372.7 975.4 A7.2 7.2 0 0 0 1365.5 982.6 L1365.5 1030.3 Z" fill="#fdd0f0" stroke="#ff0000" stroke-width="7" stroke-linejoin="bevel"/>
<path d="M855.6 1611.3 L855.6 1562.2 A23.5 23.5 0 0 1 879.1 1538.7 L907.6 1538.7 L907.6 1529.6 L925.2 1547.45 L907.6 1565.3 L907.6 1556.4 L878.2 1556.4 A5.8 5.8 0 0 0 872.4 1562.2 L872.4 1611.3 Z" fill="#00b0f0" stroke="#2e3efe" stroke-width="7" stroke-linejoin="bevel"/>
<path d="M1441.4 1358.2 L1441.4 1327.1 A21.5 21.5 0 0 1 1462.9 1305.6 L1491.2 1305.6 L1491.2 1300.6 L1506.5 1315.05 L1491.2 1329.5 L1491.2 1324.3 L1462.9 1324.3 A2.6 2.6 0 0 0 1460.3 1326.9 L1460.3 1358.2 Z" fill="#fdd0f0" stroke="#ff0000" stroke-width="7" stroke-linejoin="bevel"/>
<path d="M1138.7 100 L1138.7 73.7 A19 19 0 0 1 1157.7 54.7 L1452.6 54.7 L1452.6 48.5 L1465.5 60.95 L1452.6 73.4 L1452.6 67.7 L1157.4 67.7 A6 6 0 0 0 1151.4 73.7 L1151.4 100 Z" fill="#00b0f0" stroke="#2e3efe" stroke-width="6.9" stroke-linejoin="bevel"/>
<rect x="1480" y="38.1" width="7" height="115.7" fill="#005f85"/>
</svg>
</body></html>
